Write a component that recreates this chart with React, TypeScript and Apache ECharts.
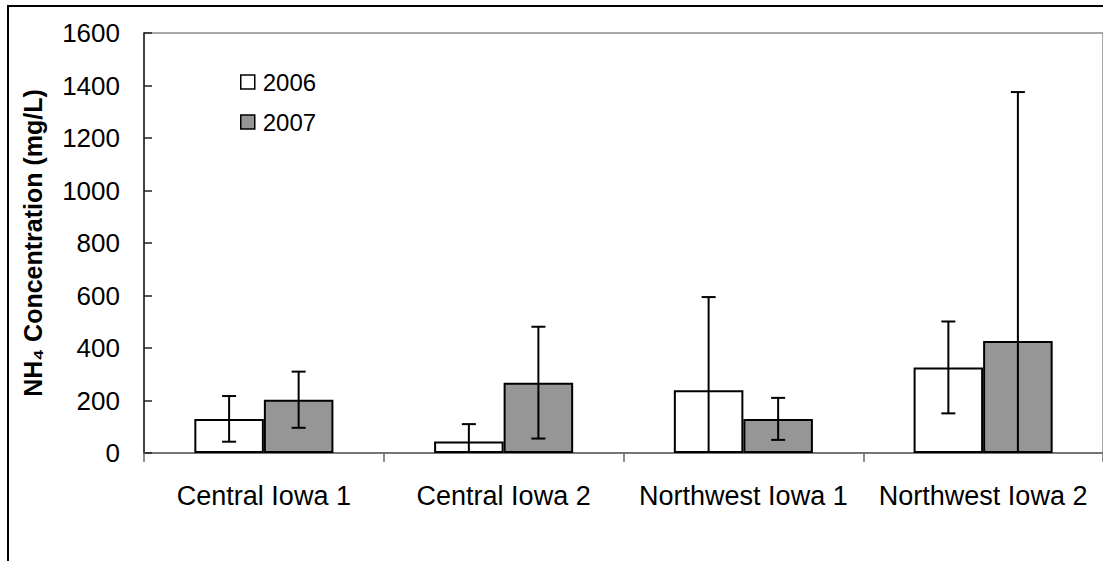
import React, { useEffect, useRef } from "react";
import * as echarts from "echarts";

// Sites and yearly NH4 means with their standard deviations (mg/L)
const categories = ["Central Iowa 1", "Central Iowa 2", "Northwest Iowa 1", "Northwest Iowa 2"];
const years = ["2006", "2007"];
const mean2006 = [130, 44, 239, 326];
const err2006 = [87, 66, 355, 175];
const mean2007 = [203, 268, 130, 427];
const err2007 = [107, 213, 80, 948];
const yTicks = { min: 0, max: 1600, interval: 200 };

const FONT = "'Liberation Sans', Arial, sans-serif";
const BAR_FRACTION = 0.29;

function errorSeries(means: number[], errs: number[], side: number) {
  return {
    type: "custom",
    silent: true,
    z: 5,
    data: means.map((m, i) => [i, m, errs[i]]),
    renderItem: (params: any, api: any) => {
      const idx = api.value(0);
      const mean = api.value(1);
      const err = api.value(2);
      const catW = api.size([1, 0])[0];
      const dx = side * catW * BAR_FRACTION / 2;
      const lowVal = Math.max(0, mean - err);
      const top = api.coord([idx, mean + err]);
      const bot = api.coord([idx, lowVal]);
      const x = top[0] + dx;
      const cap = 7;
      const style = { stroke: "#000", lineWidth: 2 };
      const children: any[] = [
        { type: "line", shape: { x1: x, y1: top[1], x2: x, y2: bot[1] }, style },
        { type: "line", shape: { x1: x - cap, y1: top[1], x2: x + cap, y2: top[1] }, style },
      ];
      if (mean - err >= 0) {
        children.push({ type: "line", shape: { x1: x - cap, y1: bot[1], x2: x + cap, y2: bot[1] }, style });
      }
      return { type: "group", children };
    },
  };
}

export default function App() {
  const ref = useRef<HTMLDivElement>(null);

  useEffect(() => {
    if (!ref.current) return;
    const chart = echarts.init(ref.current, undefined, { renderer: "svg" });
    chart.setOption({
      animation: false,
      backgroundColor: "#fff",
      textStyle: { fontFamily: FONT },
      grid: {
        left: 144,
        top: 33,
        width: 968,
        height: 420,
        show: true,
        borderColor: "#8c8c8c",
        borderWidth: 1.5,
        backgroundColor: "transparent",
      },
      legend: {
        data: years,
        orient: "vertical",
        left: 240,
        top: 70,
        padding: 0,
        itemWidth: 14,
        itemHeight: 14,
        itemGap: 16,
        icon: "rect",
        itemStyle: { borderColor: "#000", borderWidth: 1.5 },
        textStyle: { fontSize: 24, color: "#000", fontFamily: FONT, padding: [0, 0, 0, 3] },
      },
      xAxis: {
        type: "category",
        data: categories,
        axisLine: { lineStyle: { color: "#666", width: 1.5 } },
        axisTick: { show: true, inside: false, length: 9, alignWithLabel: false, lineStyle: { color: "#666", width: 1.5 } },
        axisLabel: { fontSize: 27, color: "#000", margin: 29, fontFamily: FONT, interval: 0 },
        splitLine: { show: false },
      },
      yAxis: {
        type: "value",
        min: yTicks.min,
        max: yTicks.max,
        interval: yTicks.interval,
        axisLine: { show: true, lineStyle: { color: "#222", width: 1.5 } },
        axisTick: { show: true, inside: true, length: 8, lineStyle: { color: "#222", width: 1.5 } },
        axisLabel: {
          fontSize: 26,
          color: "#000",
          margin: 24,
          fontFamily: FONT,
          formatter: (v: number) => String(v),
        },
        splitLine: { show: false },
      },
      graphic: [
        {
          type: "rect",
          shape: { x: 8, y: 6, width: 1300, height: 800 },
          style: { fill: "none", stroke: "#000", lineWidth: 2 },
          silent: true,
          z: 10,
        },
        {
          type: "text",
          x: 33,
          y: 243,
          rotation: Math.PI / 2,
          style: {
            text: "NH\u2084 Concentration (mg/L)",
            fontSize: 25,
            fontWeight: "bold",
            fontFamily: FONT,
            fill: "#000",
            align: "center",
            verticalAlign: "middle",
          },
        },
      ],
      series: [
        {
          name: years[0],
          type: "bar",
          data: mean2006,
          barWidth: BAR_FRACTION * 100 + "%",
          barGap: "0%",
          itemStyle: { color: "#ffffff", borderColor: "#000", borderWidth: 2 },
        },
        {
          name: years[1],
          type: "bar",
          data: mean2007,
          barWidth: BAR_FRACTION * 100 + "%",
          barGap: "0%",
          itemStyle: { color: "#969696", borderColor: "#000", borderWidth: 2 },
        },
        errorSeries(mean2006, err2006, -1),
        errorSeries(mean2007, err2007, 1),
      ],
    });
    return () => chart.dispose();
  }, []);

  return (
    <div
      ref={ref}
      style={{ position: "absolute", left: 0, top: 0, width: 1103, height: 561, overflow: "hidden" }}
    />
  );
}
